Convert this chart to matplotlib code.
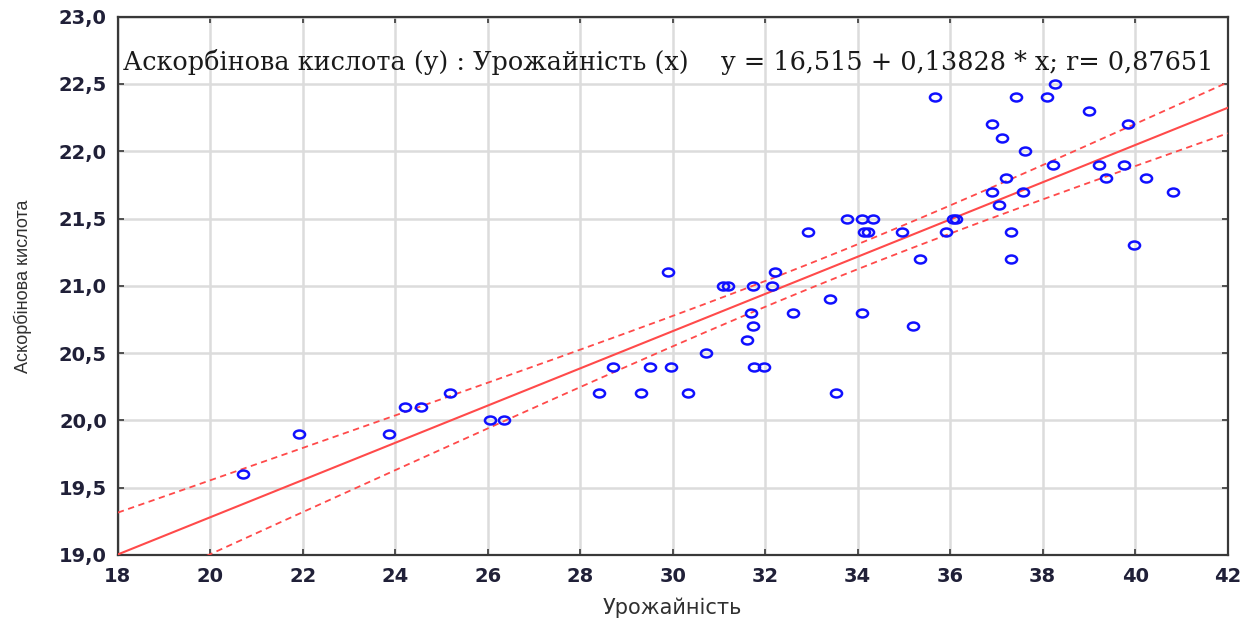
#   Ascorbic acid vs yield: scatter with linear fit and 95% bands   #

import numpy as np
import matplotlib
matplotlib.use("Agg")
import matplotlib.pyplot as plt
from matplotlib.path import Path
from matplotlib.ticker import FuncFormatter, MultipleLocator


##  Data    ##

yield_x = [20.71, 21.92, 23.86, 24.21, 24.56, 25.18, 26.05, 26.36,
           28.41, 28.71, 29.32, 29.50, 29.90, 29.97, 30.33, 30.72,
           31.08, 31.20, 31.60, 31.70, 31.74, 31.74, 31.75, 31.97,
           32.14, 32.22, 32.61, 32.92, 33.40, 33.54, 33.76, 34.10,
           34.10, 34.14, 34.23, 34.33, 34.95, 35.19, 35.35, 35.68,
           35.90, 36.05, 36.12, 36.91, 36.91, 37.05, 37.13, 37.20,
           37.31, 37.31, 37.43, 37.57, 37.61, 38.10, 38.23, 38.27,
           39.00, 39.22, 39.36, 39.75, 39.84, 39.97, 40.24, 40.81]

ascorbic_y = [19.6, 19.9, 19.9, 20.1, 20.1, 20.2, 20.0, 20.0,
              20.2, 20.4, 20.2, 20.4, 21.1, 20.4, 20.2, 20.5,
              21.0, 21.0, 20.6, 20.8, 21.0, 20.7, 20.4, 20.4,
              21.0, 21.1, 20.8, 21.4, 20.9, 20.2, 21.5, 21.5,
              20.8, 21.4, 21.4, 21.5, 21.4, 20.7, 21.2, 22.4,
              21.4, 21.5, 21.5, 22.2, 21.7, 21.6, 22.1, 21.8,
              21.4, 21.2, 22.4, 21.7, 22.0, 22.4, 21.9, 22.5,
              22.3, 21.9, 21.8, 21.9, 22.2, 21.3, 21.8, 21.7]

INTERCEPT   = 16.515
SLOPE       = 0.13828
R_VALUE     = 0.87651
T_95        = 2.0           #Student t, ~62 degrees of freedom

x_ticks = [18, 20, 22, 24, 26, 28, 30, 32, 34, 36, 38, 40, 42]


##  Regression line and confidence band ##

x = np.array(yield_x)
y = np.array(ascorbic_y)
n = len(x)

fit = INTERCEPT + SLOPE * x
s = np.sqrt(np.sum((y - fit) ** 2) / (n - 2))
sxx = np.sum((x - x.mean()) ** 2)

xs = np.linspace(18, 42, 200)
ys = INTERCEPT + SLOPE * xs
half = T_95 * s * np.sqrt(1.0 / n + (xs - x.mean()) ** 2 / sxx)


##  Figure  ##

fig = plt.figure(figsize=(12.54, 6.18), dpi=100)
ax = fig.add_axes([0.094, 0.102, 0.885, 0.871])

#   Open elliptic marker    #
circ = Path.unit_circle()
ellipse = Path(circ.vertices * np.array([1.4, 1.0]), circ.codes)

red = "#ff4a4a"
ax.plot(xs, ys, color=red, lw=1.5, zorder=3)
ax.plot(xs, ys + half, color=red, lw=1.3, ls=(0, (3.5, 2.5)), zorder=3)
ax.plot(xs, ys - half, color=red, lw=1.3, ls=(0, (3.5, 2.5)), zorder=3)
ax.plot(x, y, ls="none", marker=ellipse, ms=8, mfc="none", mec="#1010ff",
        mew=1.8, zorder=4)

ax.set_xlim(18, 42)
ax.set_ylim(19, 23)
ax.set_xticks(x_ticks)
ax.yaxis.set_major_locator(MultipleLocator(0.5))
ax.yaxis.set_major_formatter(FuncFormatter(lambda v, p: ("%.1f" % v).replace(".", ",")))

ax.grid(True, color="#dcdcdc", lw=1.8)
ax.set_axisbelow(True)
for sp in ax.spines.values():
    sp.set_color("#383838")
    sp.set_linewidth(1.6)

ax.tick_params(direction="in", top=True, right=True, length=4, width=1.2,
               color="#383838", labelsize=14, labelcolor="#202038")
ax.tick_params(axis="x", pad=9)
ax.tick_params(axis="y", pad=8)
for lab in ax.get_xticklabels() + ax.get_yticklabels():
    lab.set_family("DejaVu Sans")
    lab.set_fontweight("bold")

ax.set_xlabel("Урожайність", fontsize=15, color="#303030",
              family=["DejaVu Sans"], labelpad=8)
ax.set_ylabel("Аскорбінова кислота", fontsize=13, color="#303030",
              family=["Liberation Sans Narrow", "Liberation Sans", "DejaVu Sans"],
              labelpad=19)

title = ("Аскорбінова кислота (y) : Урожайність (x)    y = %s + %s * x; r= %s"
         % (("%.3f" % INTERCEPT).replace(".", ","),
            ("%.5f" % SLOPE).replace(".", ","),
            ("%.5f" % R_VALUE).replace(".", ",")))
ax.text(0.005, 0.915, title, transform=ax.transAxes, fontsize=18.4,
        family=["DejaVu Serif"], color="#1a1a1a",
        va="center", ha="left")

fig.savefig("out.png", dpi=100)
